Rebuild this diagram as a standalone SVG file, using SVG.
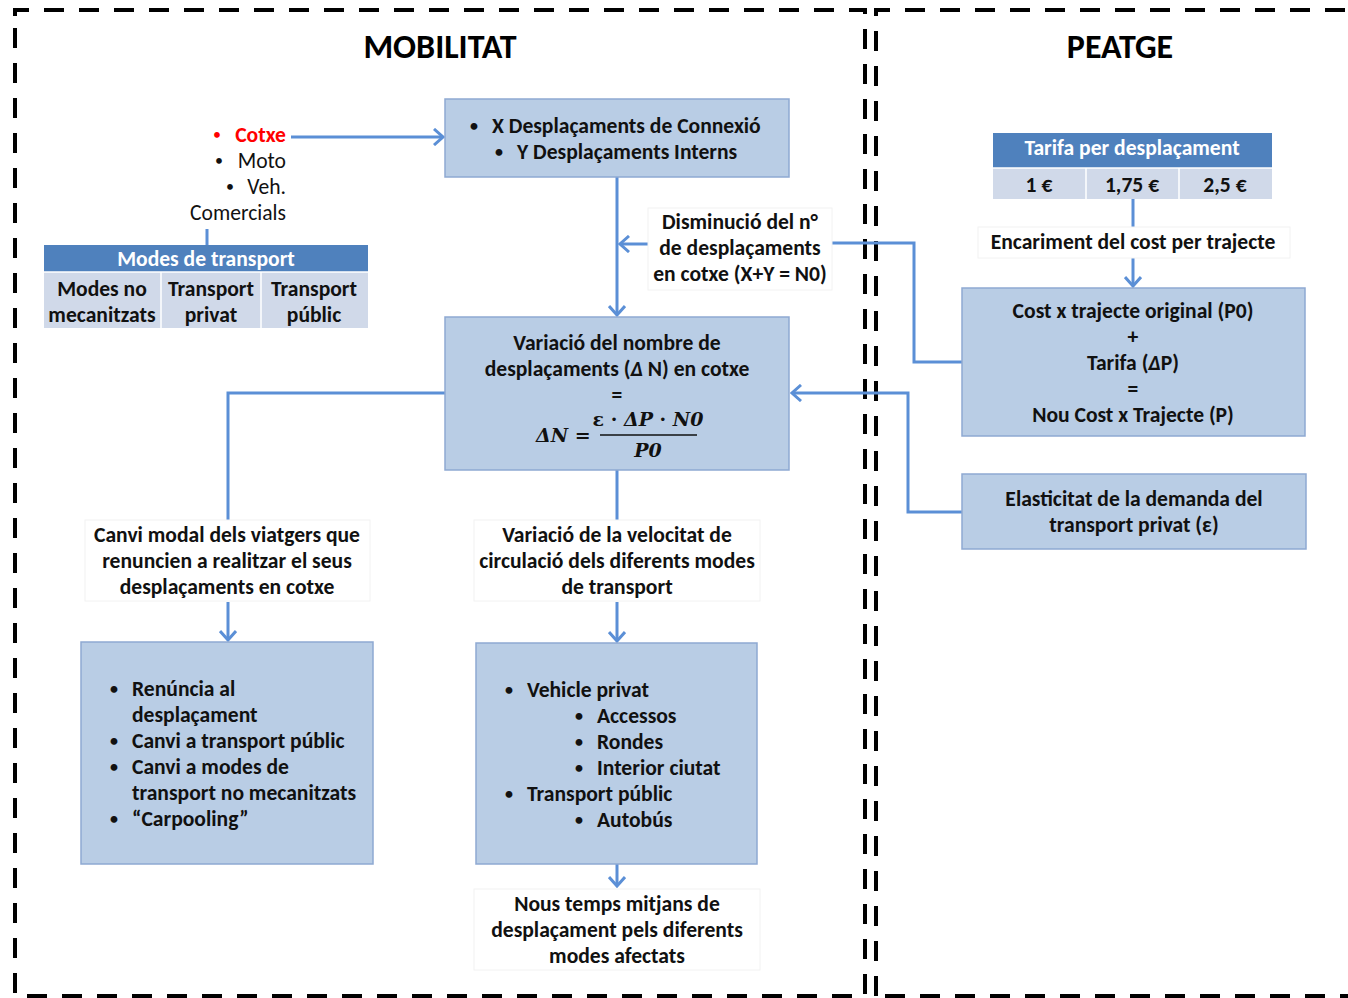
<svg xmlns="http://www.w3.org/2000/svg" width="1348" height="998" viewBox="0 0 1348 998">
<defs>
<style>
.t{font-family:Carlito,Calibri,Lato,"Liberation Sans",sans-serif;font-size:21.6px;fill:#111;}
.b{font-weight:bold;}
.c{text-anchor:middle;}
.bu{font-size:16px;}
.box{fill:#B9CDE5;stroke:#8EA9D2;stroke-width:1.5;}
.hdr{fill:#4F81BD;}
.row{fill:#D0D9E9;}
.sep{stroke:#fff;stroke-width:1.5;}
.lbl{fill:#fff;stroke:#f2f2f2;stroke-width:1;}
.con{fill:none;stroke:#5B8FD6;stroke-width:3;}
.dash{fill:none;stroke:#000;stroke-width:4;stroke-dasharray:20 15;}
.title{font-family:Carlito,Calibri,Lato,"Liberation Sans",sans-serif;font-size:34px;font-weight:bold;fill:#000;text-anchor:middle;}
.m{font-family:"Cambria Math","DejaVu Serif","Liberation Serif",serif;font-style:italic;font-weight:bold;font-size:19px;fill:#111;}
</style>
<marker id="arr" viewBox="0 0 12 18" markerWidth="12" markerHeight="18" refX="10" refY="9" orient="auto" markerUnits="userSpaceOnUse">
<path d="M1,1 L10,9 L1,17" fill="none" stroke="#5B8FD6" stroke-width="3"/>
</marker>
</defs>
<rect width="1348" height="998" fill="#fff"/>

<g id="frames">
<path class="dash" d="M15,28 V996 H865 V10 H15 Z"/>
<path class="dash" d="M876,996 V10 H1360"/>
<path class="dash" d="M1360,996 H876"/>
</g>

<g id="titles">
<text class="title" x="440" y="58">MOBILITAT</text>
<text class="title" x="1120" y="58">PEATGE</text>
</g>

<g id="connectors">
<path class="con" d="M290,137 H443" marker-end="url(#arr)"/>
<path class="con" d="M207,229 V245"/>
<path class="con" d="M617,177 V315" marker-end="url(#arr)"/>
<path class="con" d="M648,244 H620" marker-end="url(#arr)"/>
<path class="con" d="M962,362 H914 V243 H832"/>
<path class="con" d="M962,512 H908 V393 H792" marker-end="url(#arr)"/>
<path class="con" d="M445,393 H228 V520"/>
<path class="con" d="M228,602 V640" marker-end="url(#arr)"/>
<path class="con" d="M617,470 V520"/>
<path class="con" d="M617,602 V641" marker-end="url(#arr)"/>
<path class="con" d="M617,864 V886" marker-end="url(#arr)"/>
<path class="con" d="M1133,199 V227"/>
<path class="con" d="M1133,258 V286" marker-end="url(#arr)"/>
</g>

<g id="vehicles">
<rect x="123" y="118" width="168" height="111" fill="#fff"/>
<text class="t bu" x="213" y="140" style="fill:#f00">•</text>
<text class="t b" x="286" y="142" text-anchor="end" style="fill:#f00">Cotxe</text>
<text class="t bu" x="215" y="166">•</text>
<text class="t" x="286" y="168" text-anchor="end">Moto</text>
<text class="t bu" x="226" y="192">•</text>
<text class="t" x="286" y="194" text-anchor="end">Veh.</text>
<text class="t" x="286" y="220" text-anchor="end">Comercials</text>
</g>

<g id="modes-table">
<rect class="hdr" x="44" y="245" width="324" height="27"/>
<rect class="row" x="44" y="272" width="324" height="56"/>
<line class="sep" x1="44" y1="272" x2="368" y2="272"/>
<line class="sep" x1="161" y1="272" x2="161" y2="328"/>
<line class="sep" x1="261" y1="272" x2="261" y2="328"/>
<text class="t b c" x="206" y="266" style="fill:#fff">Modes de transport</text>
<text class="t b c" x="102" y="296">Modes no</text>
<text class="t b c" x="102" y="322">mecanitzats</text>
<text class="t b c" x="211" y="296">Transport</text>
<text class="t b c" x="211" y="322">privat</text>
<text class="t b c" x="314" y="296">Transport</text>
<text class="t b c" x="314" y="322">públic</text>
</g>

<g id="desplacaments">
<rect class="box" x="445" y="99" width="344" height="78"/>
<text class="t b bu" x="470" y="131">•</text>
<text class="t b" x="492" y="133">X Desplaçaments de Connexió</text>
<text class="t b bu" x="495" y="157">•</text>
<text class="t b" x="517" y="159">Y Desplaçaments Interns</text>
</g>

<g id="disminucio">
<rect class="lbl" x="648" y="208" width="184" height="82"/>
<text class="t b c" x="740" y="229">Disminució del n°</text>
<text class="t b c" x="740" y="255">de desplaçaments</text>
<text class="t b c" x="740" y="281">en cotxe (X+Y = N0)</text>
</g>

<g id="variacio-nombre">
<rect class="box" x="445" y="317" width="344" height="153"/>
<text class="t b c" x="617" y="350">Variació del nombre de</text>
<text class="t b c" x="617" y="376">desplaçaments (<tspan font-style="italic">Δ</tspan> N) en  cotxe</text>
<text class="t b c" x="617" y="402">=</text>
<text class="m" x="536" y="442">ΔN <tspan font-style="normal">=</tspan></text>
<text class="m" x="648" y="426" text-anchor="middle" font-size="17"><tspan font-style="normal">ε · </tspan>ΔP<tspan font-style="normal"> · </tspan>N0</text>
<line x1="600" y1="435" x2="697" y2="435" stroke="#111" stroke-width="1.5"/>
<text class="m" x="648" y="457" text-anchor="middle">P0</text>
</g>

<g id="canvi-modal">
<rect class="lbl" x="85" y="520" width="285" height="81"/>
<text class="t b c" x="227" y="542">Canvi modal dels viatgers que</text>
<text class="t b c" x="227" y="568">renuncien a realitzar el seus</text>
<text class="t b c" x="227" y="594">desplaçaments en cotxe</text>
</g>

<g id="variacio-velocitat">
<rect class="lbl" x="474" y="520" width="286" height="81"/>
<text class="t b c" x="617" y="542">Variació de la velocitat de</text>
<text class="t b c" x="617" y="568">circulació dels diferents modes</text>
<text class="t b c" x="617" y="594">de transport</text>
</g>

<g id="renuncia">
<rect class="box" x="81" y="642" width="292" height="222"/>
<text class="t b bu" x="110" y="694">•</text>
<text class="t b" x="132" y="696">Renúncia al</text>
<text class="t b" x="132" y="722">desplaçament</text>
<text class="t b bu" x="110" y="746">•</text>
<text class="t b" x="132" y="748">Canvi a transport públic</text>
<text class="t b bu" x="110" y="772">•</text>
<text class="t b" x="132" y="774">Canvi a modes de</text>
<text class="t b" x="132" y="800">transport no mecanitzats</text>
<text class="t b bu" x="110" y="824">•</text>
<text class="t b" x="132" y="826">“Carpooling”</text>
</g>

<g id="vehicle-privat">
<rect class="box" x="476" y="643" width="281" height="221"/>
<text class="t b bu" x="505" y="695">•</text>
<text class="t b" x="527" y="697">Vehicle privat</text>
<text class="t b bu" x="575" y="721">•</text>
<text class="t b" x="597" y="723">Accessos</text>
<text class="t b bu" x="575" y="747">•</text>
<text class="t b" x="597" y="749">Rondes</text>
<text class="t b bu" x="575" y="773">•</text>
<text class="t b" x="597" y="775">Interior ciutat</text>
<text class="t b bu" x="505" y="799">•</text>
<text class="t b" x="527" y="801">Transport públic</text>
<text class="t b bu" x="575" y="825">•</text>
<text class="t b" x="597" y="827">Autobús</text>
</g>

<g id="nous-temps">
<rect class="lbl" x="474" y="889" width="286" height="81"/>
<text class="t b c" x="617" y="911">Nous temps mitjans de</text>
<text class="t b c" x="617" y="937">desplaçament pels diferents</text>
<text class="t b c" x="617" y="963">modes afectats</text>
</g>

<g id="tarifa-table">
<rect class="hdr" x="993" y="133" width="279" height="35"/>
<rect class="row" x="993" y="168" width="279" height="31"/>
<line class="sep" x1="993" y1="168" x2="1272" y2="168"/>
<line class="sep" x1="1086" y1="168" x2="1086" y2="199"/>
<line class="sep" x1="1179" y1="168" x2="1179" y2="199"/>
<text class="t b c" x="1132" y="155" style="fill:#fff">Tarifa per desplaçament</text>
<text class="t b c" x="1039" y="192">1 €</text>
<text class="t b c" x="1132" y="192">1,75 €</text>
<text class="t b c" x="1225" y="192">2,5 €</text>
</g>

<g id="encariment">
<rect class="lbl" x="978" y="227" width="312" height="31"/>
<text class="t b c" x="1133" y="249">Encariment del cost per trajecte</text>
</g>

<g id="cost">
<rect class="box" x="962" y="288" width="343" height="148"/>
<text class="t b c" x="1133" y="318">Cost x trajecte original (P0)</text>
<text class="t b c" x="1133" y="344">+</text>
<text class="t b c" x="1133" y="370">Tarifa (<tspan font-style="italic">Δ</tspan>P)</text>
<text class="t b c" x="1133" y="396">=</text>
<text class="t b c" x="1133" y="422">Nou Cost x Trajecte (P)</text>
</g>

<g id="elasticitat">
<rect class="box" x="962" y="474" width="344" height="75"/>
<text class="t b c" x="1134" y="506">Elasticitat de la demanda del</text>
<text class="t b c" x="1134" y="532">transport privat (ε)</text>
</g>
</svg>
